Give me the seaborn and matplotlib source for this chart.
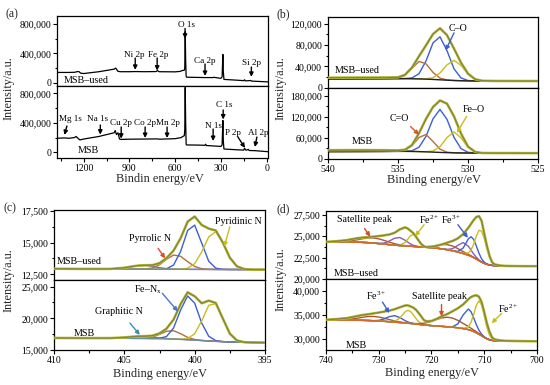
import matplotlib
matplotlib.use("Agg")
import matplotlib.pyplot as plt
import seaborn as sns
from matplotlib.ticker import FuncFormatter, MultipleLocator, AutoMinorLocator

# ---------------- data ----------------
# (a) survey spectra
a_used_be = [1375, 1300, 1260, 1240, 1230, 1220, 1200, 1100, 1000, 990, 985, 975, 960, 900, 862, 800,
             725, 716, 705, 600, 565, 556, 540, 537, 534, 531, 528, 525, 400, 350, 346, 310, 300, 292,
             287, 284, 280, 200, 150, 145, 140, 103, 100, 60, 0, -9]
a_used_int = [140e3, 140e3, 142e3, 152e3, 150e3, 130e3, 125e3, 150e3, 185e3, 200e3, 185e3, 155e3, 150e3,
              150e3, 152e3, 150e3, 152e3, 165e3, 150e3, 148e3, 155e3, 165e3, 170e3, 200e3, 695e3, 300e3,
              90e3, 75e3, 70e3, 70e3, 74e3, 62e3, 60e3, 80e3, 386e3, 150e3, 45e3, 35e3, 28e3, 40e3, 25e3,
              30e3, 22e3, 18e3, 12e3, 10e3]
a_msb_be = [1375, 1320, 1300, 1260, 1250, 1235, 1225, 1200, 1100, 1000, 993, 985, 975, 965, 955, 900, 800,
            720, 700, 600, 560, 550, 540, 537, 534, 531, 528, 525, 450, 405, 400, 395, 300, 292, 287, 284,
            280, 200, 150, 145, 135, 120, 115, 75, 0, -9]
a_msb_int = [191e3, 195e3, 190e3, 200e3, 215e3, 185e3, 168e3, 180e3, 215e3, 265e3, 295e3, 240e3, 265e3,
             180e3, 175e3, 178e3, 180e3, 182e3, 178e3, 185e3, 200e3, 215e3, 225e3, 300e3, 880e3, 400e3,
             110e3, 100e3, 98e3, 95e3, 110e3, 92e3, 80e3, 100e3, 432e3, 150e3, 45e3, 35e3, 30e3, 55e3,
             28e3, 40e3, 25e3, 22e3, 10e3, 8e3]
a_xticks = [1200, 900, 600, 300, 0]
a_yticks = [0, 400000, 800000]

# (b) O 1s
b_be = [540, 538, 536, 535, 534.5, 534, 533.5, 533, 532.5, 532, 531.5, 531, 530.5, 530, 529.5, 529, 528, 526, 525]
b_used_bg = [16000, 16200, 16500, 16700, 16700, 16500, 16200, 15800, 15200, 14500, 13800, 13200, 12800, 12500, 12400, 12300, 12300, 12200, 12200]
b_used_co = [16000, 16200, 16500, 16700, 16900, 18100, 26000, 50000, 84200, 95600, 69400, 35300, 18000, 13200, 12400, 12300, 12300, 12200, 12200]
b_used_cdo = [16000, 16200, 16500, 17700, 22800, 36100, 49200, 44800, 28500, 17700, 14200, 13200, 12800, 12500, 12400, 12300, 12300, 12200, 12200]
b_used_feo = [16000, 16200, 16500, 16700, 16700, 16500, 16200, 16300, 18500, 27400, 42800, 51200, 41800, 25400, 15700, 12800, 12300, 12200, 12200]
b_used_env = [18500, 18700, 18800, 19200, 24000, 37700, 59000, 79500, 100800, 111700, 98800, 73300, 47000, 26100, 15700, 12800, 12300, 12200, 12200]
b_msb_bg = [21000, 21200, 21500, 21700, 21700, 21500, 21000, 20300, 19500, 18700, 18000, 17500, 17200, 17000, 16900, 16800, 16800, 16700, 16700]
b_msb_co = [21000, 21200, 21500, 21700, 21900, 23600, 33300, 64300, 114100, 140700, 112600, 61500, 29500, 19100, 17100, 16800, 16800, 16700, 16700]
b_msb_cdo = [21000, 21200, 21500, 22000, 25000, 37700, 61000, 69600, 49800, 28000, 19400, 17600, 17200, 17000, 16900, 16800, 16800, 16700, 16700]
b_msb_feo = [21000, 21200, 21500, 21700, 21700, 21500, 21000, 20600, 22700, 34900, 61000, 77000, 60200, 33200, 20100, 17100, 16800, 16700, 16700]
b_msb_env = [25000, 25200, 25000, 24400, 26200, 39800, 73300, 113900, 147600, 166200, 157000, 121000, 72500, 35300, 20300, 17100, 16800, 16700, 16700]
b_xticks = [540, 535, 530, 525]
b_used_yticks = [0, 40000, 80000, 120000]
b_msb_yticks = [0, 60000, 120000, 180000]

# (c) N 1s
c_be = [410, 408, 406, 405, 404.5, 404, 403.5, 403, 402.5, 402, 401.5, 401, 400.5, 400, 399.5, 399, 398.5, 398, 397.5, 397, 396.5, 396, 395.5, 395]
c_used_bg = [12930, 12922, 12914, 12910, 12908, 12906, 12904, 12902, 12900, 12898, 12896, 12894, 12892, 12890, 12888, 12886, 12884, 12882, 12880, 12878, 12876, 12874, 12872, 12870]
c_used_fen = [12930, 12922, 12914, 12910, 12908, 12906, 12904, 12902, 12903, 12940, 13233, 14301, 15962, 16386, 14967, 13531, 12988, 12891, 12880, 12878, 12876, 12874, 12872, 12870]
c_used_pyridinic = [12930, 12922, 12914, 12910, 12908, 12906, 12904, 12902, 12900, 12898, 12896, 12906, 12985, 13343, 14262, 15458, 15856, 15003, 13814, 13133, 12919, 12878, 12872, 12870]
c_used_pyrrolic = [12930, 12922, 12914, 12910, 12908, 12908, 12923, 13004, 13255, 13688, 14023, 13926, 13497, 13118, 12943, 12894, 12884, 12882, 12880, 12878, 12876, 12874, 12872, 12870]
c_used_graphitic = [12930, 12922, 12925, 13016, 13110, 13190, 13197, 13124, 13023, 12948, 12911, 12897, 12892, 12890, 12888, 12886, 12884, 12882, 12880, 12878, 12876, 12874, 12872, 12870]
c_used_env = [12940, 12925, 12925, 13016, 13110, 13192, 13216, 13226, 13381, 13780, 14375, 15347, 16660, 17067, 16396, 16111, 15960, 15012, 13814, 13133, 12919, 12878, 12872, 12870]
c_msb_bg = [16860, 16855, 16850, 16845, 16840, 16835, 16825, 16810, 16790, 16760, 16725, 16680, 16620, 16560, 16495, 16430, 16370, 16320, 16275, 16240, 16210, 16190, 16175, 16160]
c_msb_fen = [16860, 16855, 16850, 16845, 16840, 16835, 16825, 16813, 16834, 17130, 18470, 21310, 23540, 22386, 19258, 17168, 16481, 16329, 16275, 16240, 16210, 16190, 16175, 16160]
c_msb_pyridinic = [16860, 16855, 16850, 16845, 16840, 16835, 16825, 16810, 16790, 16760, 16725, 16700, 16807, 17558, 19597, 22055, 22309, 19971, 17581, 16514, 16243, 16192, 16175, 16160]
c_msb_pyrrolic = [16860, 16855, 16850, 16845, 16840, 16842, 16875, 17043, 17462, 17960, 18046, 17578, 16997, 16658, 16511, 16431, 16370, 16320, 16275, 16240, 16210, 16190, 16175, 16160]
c_msb_graphitic = [16860, 16855, 16867, 16981, 17084, 17157, 17137, 17032, 16906, 16805, 16738, 16683, 16620, 16560, 16495, 16430, 16370, 16320, 16275, 16240, 16210, 16190, 16175, 16160]
c_msb_env = [16900, 16880, 16880, 16981, 17084, 17164, 17187, 17268, 17622, 18375, 19804, 22231, 24104, 23482, 22376, 22794, 22420, 19980, 17581, 16514, 16243, 16192, 16175, 16160]
c_xticks = [410, 405, 400, 395]
c_used_yticks = [12500, 15000, 17500]
c_msb_yticks = [15000, 20000, 25000]

# (d) Fe 2p
d_be = [740, 738, 736, 734, 733, 732, 731, 730, 729, 728, 727, 726, 725, 724.5, 724, 723.5, 723, 722.5, 722,
        721.5, 721, 720, 719, 718, 717, 716, 715, 714, 713, 712.5, 712, 711.5, 711, 710.5, 710, 709.5, 709,
        708.5, 708, 707, 706, 704, 702, 700]
d_used_bg = [24330, 24330, 24320, 24300, 24280, 24250, 24200, 24140, 24080, 24020, 23960, 23910, 23870, 23850, 23830, 23810, 23790, 23770, 23750, 23730, 23710, 23660, 23600, 23520, 23420, 23300, 23150, 22980, 22780, 22650, 22500, 22330, 22150, 21980, 21830, 21720, 21640, 21590, 21560, 21530, 21510, 21500, 21500, 21500]
d_used_sat1 = [24331, 24342, 24401, 24592, 24716, 24804, 24800, 24694, 24516, 24312, 24127, 23991, 23904, 23870, 23842, 23817, 23794, 23772, 23751, 23730, 23710, 23660, 23600, 23520, 23420, 23300, 23150, 22980, 22780, 22650, 22500, 22330, 22150, 21980, 21830, 21720, 21640, 21590, 21560, 21530, 21510, 21500, 21500, 21500]
d_used_fe3a = [24330, 24330, 24320, 24300, 24280, 24250, 24200, 24164, 24208, 24435, 24767, 24850, 24528, 24304, 24106, 23958, 23860, 23799, 23760, 23730, 23710, 23660, 23600, 23520, 23420, 23300, 23150, 22980, 22780, 22650, 22500, 22330, 22150, 21980, 21830, 21720, 21640, 21590, 21560, 21530, 21510, 21500, 21500, 21500]
d_used_fe2a = [24330, 24330, 24320, 24300, 24280, 24250, 24200, 24140, 24080, 24020, 23962, 23954, 24272, 24655, 25049, 25210, 25009, 24575, 24152, 23883, 23754, 23662, 23600, 23520, 23420, 23300, 23150, 22980, 22780, 22650, 22500, 22330, 22150, 21980, 21830, 21720, 21640, 21590, 21560, 21530, 21510, 21500, 21500, 21500]
d_used_sat2 = [24330, 24330, 24320, 24300, 24280, 24250, 24200, 24140, 24080, 24020, 23960, 23910, 23870, 23850, 23830, 23810, 23790, 23770, 23770, 23768, 23776, 23827, 23928, 24021, 24017, 23854, 23550, 23205, 22878, 22709, 22534, 22348, 22159, 21984, 21830, 21720, 21640, 21590, 21560, 21530, 21510, 21500, 21500, 21500]
d_used_fe3b = [24330, 24330, 24320, 24300, 24280, 24250, 24200, 24140, 24080, 24020, 23960, 23910, 23870, 23850, 23830, 23810, 23790, 23770, 23750, 23730, 23710, 23660, 23600, 23523, 23457, 23542, 23939, 24262, 23821, 23373, 22922, 22537, 22236, 22010, 21839, 21720, 21640, 21590, 21560, 21530, 21510, 21500, 21500, 21500]
d_used_fe3c = [24330, 24330, 24320, 24300, 24280, 24250, 24200, 24140, 24080, 24020, 23960, 23910, 23870, 23850, 23830, 23810, 23790, 23770, 23750, 23730, 23710, 23660, 23600, 23520, 23420, 23304, 23228, 23619, 24701, 24939, 24623, 23864, 23013, 22357, 21959, 21755, 21647, 21590, 21560, 21530, 21510, 21500, 21500, 21500]
d_used_fe2b = [24330, 24330, 24320, 24300, 24280, 24250, 24200, 24140, 24080, 24020, 23960, 23910, 23870, 23850, 23830, 23810, 23790, 23770, 23750, 23730, 23710, 23660, 23600, 23520, 23420, 23300, 23150, 22996, 23043, 23383, 24090, 25016, 25687, 25606, 24727, 23522, 22513, 21919, 21657, 21534, 21510, 21500, 21500, 21500]
d_used_env = [24340, 24420, 24550, 24780, 24850, 24900, 24950, 25020, 25100, 25200, 25400, 25800, 26040, 25900, 25650, 25390, 25000, 24550, 24120, 23850, 23730, 23760, 23880, 24050, 24250, 24450, 24750, 25250, 26000, 26450, 26900, 27250, 27350, 26800, 25300, 23900, 22700, 21950, 21700, 21580, 21530, 21510, 21500, 21500]
d_msb_bg = [33950, 33950, 33930, 33900, 33880, 33850, 33800, 33740, 33680, 33600, 33510, 33420, 33330, 33280, 33230, 33180, 33120, 33060, 33000, 32940, 32880, 32780, 32700, 32620, 32540, 32450, 32330, 32170, 31950, 31780, 31560, 31290, 30990, 30660, 30330, 30040, 29830, 29700, 29640, 29580, 29550, 29530, 29520, 29520]
d_msb_sat1 = [33951, 33968, 34052, 34338, 34533, 34681, 34700, 34571, 34333, 34038, 33760, 33542, 33380, 33311, 33248, 33190, 33125, 33062, 33001, 32940, 32880, 32780, 32700, 32620, 32540, 32450, 32330, 32170, 31950, 31780, 31560, 31290, 30990, 30660, 30330, 30040, 29830, 29700, 29640, 29580, 29550, 29530, 29520, 29520]
d_msb_fe3a = [33950, 33950, 33930, 33900, 33880, 33850, 33823, 33876, 34167, 34646, 34860, 34466, 33817, 33554, 33366, 33239, 33143, 33068, 33000, 32940, 32880, 32780, 32700, 32620, 32540, 32450, 32330, 32170, 31950, 31780, 31560, 31290, 30990, 30660, 30330, 30040, 29830, 29700, 29640, 29580, 29550, 29530, 29520, 29520]
d_msb_fe2a = [33950, 33950, 33930, 33900, 33880, 33850, 33800, 33740, 33680, 33613, 33675, 34357, 35657, 35969, 35757, 35113, 34321, 33668, 33251, 33024, 32903, 32780, 32700, 32620, 32540, 32450, 32330, 32170, 31950, 31780, 31560, 31290, 30990, 30660, 30330, 30040, 29830, 29700, 29640, 29580, 29550, 29530, 29520, 29520]
d_msb_sat2 = [33950, 33950, 33930, 33900, 33880, 33850, 33800, 33740, 33680, 33600, 33510, 33420, 33339, 33297, 33262, 33235, 33212, 33208, 33230, 33282, 33368, 33662, 34058, 34402, 34534, 34350, 33874, 33238, 32580, 32236, 31877, 31501, 31126, 30744, 30380, 30068, 29845, 29708, 29640, 29580, 29550, 29530, 29520, 29520]
d_msb_fe3b = [33950, 33950, 33930, 33900, 33880, 33850, 33800, 33740, 33680, 33600, 33510, 33420, 33330, 33280, 33230, 33180, 33120, 33060, 33000, 32940, 32880, 32780, 32700, 32620, 32545, 32553, 33151, 35012, 36250, 35659, 34402, 32989, 31811, 30987, 30433, 30067, 29836, 29700, 29640, 29580, 29550, 29530, 29520, 29520]
d_msb_fe2b = [33950, 33950, 33930, 33900, 33880, 33850, 33800, 33740, 33680, 33600, 33510, 33420, 33330, 33280, 33230, 33180, 33120, 33060, 33000, 32940, 32880, 32780, 32700, 32620, 32540, 32450, 32330, 32204, 32559, 33474, 35144, 37023, 37948, 37065, 34796, 32406, 30775, 29987, 29707, 29581, 29550, 29530, 29520, 29520]
d_msb_env = [34000, 34150, 34350, 34800, 35000, 35150, 35330, 35500, 35700, 35900, 36200, 36600, 36980, 37000, 36800, 36550, 36150, 35500, 34780, 34000, 33680, 33750, 34200, 34750, 35200, 35780, 36400, 37200, 38300, 38750, 39000, 39100, 38800, 37700, 35600, 33300, 31500, 30300, 29900, 29700, 29620, 29570, 29540, 29520]
d_xticks = [740, 730, 720, 710, 700]
d_used_yticks = [20000, 22500, 25000, 27500]
d_msb_yticks = [30000, 35000, 40000]

# ---------------- style ----------------
sns.set_theme(style="ticks")
plt.rcParams['font.family'] = ['Liberation Serif', 'DejaVu Serif']
plt.rcParams['mathtext.fontset'] = 'custom'
plt.rcParams['mathtext.rm'] = 'Liberation Serif'
plt.rcParams['mathtext.it'] = 'Liberation Serif:italic'
plt.rcParams['mathtext.bf'] = 'Liberation Serif:bold'

BLUE = "#3d5fd0"
BROWN = "#b0703e"
YELLOW = "#c9bd1e"
PURPLE = "#8a5cb8"
ENV = "#85853a"
RAW = "#bcc23c"
ORANGE = "#d8652a"
SAT = "#a8582e"
TEAL = "#6f9095"

W, H = 550, 385
fig = plt.figure(figsize=(5.5, 3.85), dpi=100)
fig.patch.set_facecolor("white")


def make_ax(l, t, r, b):
    return fig.add_axes([l / W, 1 - b / H, (r - l) / W, (b - t) / H])


def fmt(v, p):
    return f"{int(round(v)):,}"


def style(ax, xlim, ylim, yticks, xticks, xminor, show_x):
    ax.set_xlim(*xlim)
    ax.set_ylim(*ylim)
    ax.set_xticks(xticks)
    ax.set_yticks(yticks)
    ax.xaxis.set_minor_locator(MultipleLocator(xminor))
    ax.yaxis.set_minor_locator(AutoMinorLocator(2))
    ax.yaxis.set_major_formatter(FuncFormatter(fmt))
    ax.tick_params(which='both', direction='out', top=False, right=False, labelsize=7,
                   pad=1.2, width=0.8, colors='black')
    ax.tick_params(which='major', length=3)
    ax.tick_params(which='minor', length=1.8)
    if not show_x:
        ax.tick_params(axis='x', which='both', labelbottom=False, length=0)
    ax.set_xlabel('')
    ax.set_ylabel('')
    ax.grid(False)
    ax.set_facecolor('white')
    for s in ax.spines.values():
        s.set_visible(True)
        s.set_linewidth(0.9)
        s.set_color('black')


def line(ax, x, y, color, lw, z=2):
    sns.lineplot(x=x, y=y, ax=ax, color=color, lw=lw, estimator=None, sort=False,
                 legend=False, zorder=z)


def arrow(ax, tail, head, color):
    ax.annotate("", xy=head, xytext=tail,
                arrowprops=dict(arrowstyle='-|>', color=color, lw=1.0, mutation_scale=6,
                                shrinkA=0, shrinkB=0), zorder=6)


def label(ax, x, y, s, ha='center', size=7.2):
    ax.text(x, y, s, ha=ha, va='center', fontsize=size, color='black', zorder=7)


ENV_LW = 1.0
RAW_LW = 1.9

# ---------------- (a) ----------------
a1 = make_ax(57, 16, 268, 86)
line(a1, a_used_be, a_used_int, 'black', 0.9)
style(a1, (1375, -9), (-45000, 910000), a_yticks, a_xticks, 150, False)
for txt, xt, yt in [("O 1s", 528, 790000), ("Ni 2p", 866, 378000), ("Fe 2p", 712, 378000),
                    ("Ca 2p", 404, 296000), ("Si 2p", 98, 269000)]:
    label(a1, xt, yt, txt, size=6.6)
a1_arrows = [((535, 740000), (535, 600000)), ((862, 337000), (862, 175000)), ((718, 337000), (718, 165000)),
             ((404, 255000), (404, 92000)), ((100, 214000), (100, 80000))]
for t, h in a1_arrows:
    arrow(a1, t, h, 'black')
label(a1, 1330, 27000, "MSB–used", ha='left', size=7.3)

a2 = make_ax(57, 86, 268, 158)
line(a2, a_msb_be, a_msb_int, 'black', 0.9)
style(a2, (1375, -9), (-77000, 899000), a_yticks, a_xticks, 150, True)
for txt, xt, yt in [("Mg 1s", 1288, 451000), ("Na 1s", 1111, 451000), ("Cu 2p", 958, 396000),
                    ("Co 2p", 797, 396000), ("Mn 2p", 650, 396000), ("N 1s", 351, 357000),
                    ("C 1s", 280, 641000), ("P 2p", 222, 260000), ("Al 2p", 57, 260000)]:
    label(a2, xt, yt, txt, size=6.6)
a2_arrows = [((1310, 357000), (1326, 235000)), ((1091, 370000), (1091, 240000)), ((954, 343000), (954, 185000)),
             ((797, 343000), (797, 194000)), ((653, 343000), (653, 194000)), ((351, 316000), (351, 153000)),
             ((285, 574000), (285, 445000)), ((188, 207000), (142, 60000)), ((64, 207000), (77, 72000))]
for t, h in a2_arrows:
    arrow(a2, t, h, 'black')
label(a2, 1240, 25000, "MSB", ha='left', size=7.3)

# ---------------- (b) ----------------
b1 = make_ax(328, 17, 538, 87.5)
line(b1, b_be, b_used_co, BLUE, 1.0)
line(b1, b_be, b_used_cdo, BROWN, 1.0)
line(b1, b_be, b_used_feo, YELLOW, 1.0)
line(b1, b_be, b_used_bg, '#222222', 1.0)
line(b1, b_be, b_used_env, RAW, RAW_LW, 3)
line(b1, b_be, b_used_env, ENV, ENV_LW, 4)
style(b1, (540, 525), (0, 133000), b_used_yticks, b_xticks, 2.5, False)
label(b1, 530.7, 112000, "C–O")
arrow(b1, (531.0, 103000), (531.6, 70000), BLUE)
label(b1, 539.5, 33000, "MSB–used", ha='left', size=7.3)

b2 = make_ax(328, 87.5, 538, 159)
line(b2, b_be, b_msb_co, BLUE, 1.0)
line(b2, b_be, b_msb_cdo, BROWN, 1.0)
line(b2, b_be, b_msb_feo, YELLOW, 1.0)
line(b2, b_be, b_msb_bg, '#222222', 1.0)
line(b2, b_be, b_msb_env, RAW, RAW_LW, 3)
line(b2, b_be, b_msb_env, ENV, ENV_LW, 4)
style(b2, (540, 525), (0, 203000), b_msb_yticks, b_xticks, 2.5, True)
label(b2, 534.9, 116000, "C=O")
arrow(b2, (534.1, 92000), (533.5, 69000), '#d05a30')
label(b2, 529.6, 139500, "Fe–O")
arrow(b2, (530.1, 121000), (530.8, 74000), YELLOW)
label(b2, 538.3, 49000, "MSB", ha='left', size=7.3)

# ---------------- (c) ----------------
c1 = make_ax(54, 210, 265, 280)
line(c1, c_be, c_used_graphitic, PURPLE, 1.0)
line(c1, c_be, c_used_pyrrolic, BROWN, 1.0)
line(c1, c_be, c_used_fen, BLUE, 1.0)
line(c1, c_be, c_used_pyridinic, YELLOW, 1.0)
line(c1, c_be, c_used_bg, TEAL, 1.0)
line(c1, c_be, c_used_env, RAW, RAW_LW, 3)
line(c1, c_be, c_used_env, ENV, ENV_LW, 4)
style(c1, (410, 395), (12050, 17580), c_used_yticks, c_xticks, 2.5, False)
label(c1, 403.2, 15350, "Pyrrolic N")
arrow(c1, (402.6, 14550), (402.1, 13760), '#e04a22')
label(c1, 396.9, 16650, "Pyridinic N")
arrow(c1, (397.5, 16250), (397.9, 14680), YELLOW)
label(c1, 409.8, 13500, "MSB–used", ha='left', size=7.3)

c2 = make_ax(54, 280, 265, 350)
line(c2, c_be, c_msb_graphitic, PURPLE, 1.0)
line(c2, c_be, c_msb_pyrrolic, BROWN, 1.0)
line(c2, c_be, c_msb_fen, BLUE, 1.0)
line(c2, c_be, c_msb_pyridinic, YELLOW, 1.0)
line(c2, c_be, c_msb_bg, TEAL, 1.0)
line(c2, c_be, c_msb_env, RAW, RAW_LW, 3)
line(c2, c_be, c_msb_env, ENV, ENV_LW, 4)
style(c2, (410, 395), (15000, 26050), c_msb_yticks, c_xticks, 2.5, True)
label(c2, 403.3, 24500, r"Fe–N$_\mathregular{x}$")
arrow(c2, (402.3, 23950), (401.2, 21100), '#4a78c8')
label(c2, 405.4, 21050, "Graphitic N")
arrow(c2, (404.6, 19250), (403.9, 17380), '#3b8db0')
label(c2, 408.6, 17650, "MSB", ha='left', size=7.3)

# ---------------- (d) ----------------
d1 = make_ax(326, 211, 537, 279)
line(d1, d_be, d_used_sat1, SAT, 1.0)
line(d1, d_be, d_used_fe3a, PURPLE, 1.0)
line(d1, d_be, d_used_fe2a, YELLOW, 1.0)
line(d1, d_be, d_used_sat2, SAT, 1.0)
line(d1, d_be, d_used_fe3b, PURPLE, 1.0)
line(d1, d_be, d_used_fe3c, BLUE, 1.0)
line(d1, d_be, d_used_fe2b, YELLOW, 1.0)
line(d1, d_be, d_used_bg, ORANGE, 1.0)
line(d1, d_be, d_used_env, RAW, RAW_LW, 3)
line(d1, d_be, d_used_env, ENV, ENV_LW, 4)
style(d1, (740, 700), (20000, 27950), d_used_yticks, d_xticks, 5, False)
label(d1, 732.7, 26900, "Satellite peak")
arrow(d1, (732.7, 25900), (731.6, 24960), '#d84a26')
label(d1, 720.4, 26900, r"Fe$^{2+}$")
arrow(d1, (721.4, 26350), (723.1, 25000), YELLOW)
label(d1, 716.3, 26900, r"Fe$^{3+}$")
arrow(d1, (715.0, 26350), (713.1, 24810), BLUE)
label(d1, 738.6, 20600, "MSB–used", ha='left', size=7.3)

d2 = make_ax(326, 279, 537, 350)
line(d2, d_be, d_msb_sat1, SAT, 1.0)
line(d2, d_be, d_msb_fe3a, BLUE, 1.0)
line(d2, d_be, d_msb_fe2a, YELLOW, 1.0)
line(d2, d_be, d_msb_sat2, SAT, 1.0)
line(d2, d_be, d_msb_fe3b, BLUE, 1.0)
line(d2, d_be, d_msb_fe2b, YELLOW, 1.0)
line(d2, d_be, d_msb_bg, ORANGE, 1.0)
line(d2, d_be, d_msb_env, RAW, RAW_LW, 3)
line(d2, d_be, d_msb_env, ENV, ENV_LW, 4)
style(d2, (740, 700), (27700, 42500), d_msb_yticks, d_xticks, 5, True)
label(d2, 730.6, 39050, r"Fe$^{3+}$")
arrow(d2, (729.3, 37700), (728.0, 35400), BLUE)
label(d2, 718.4, 38950, "Satellite peak")
arrow(d2, (718.1, 37200), (718.1, 34700), '#d84a26')
label(d2, 705.5, 36200, r"Fe$^{2+}$")
arrow(d2, (706.7, 35350), (708.6, 33270), YELLOW)
label(d2, 736.2, 28550, "MSB", ha='left', size=7.3)

# ---------------- figure texts ----------------
def ftext(px, py, s, **kw):
    fig.text(px / W, 1 - py / H, s, **kw)

for px, py, s in [(12, 14, "(a)"), (283, 14, "(b)"), (10, 208, "(c)"), (283, 209, "(d)")]:
    ftext(px, py, s, ha='center', va='center', fontsize=8.5)
for px, py in [(9, 88), (281, 88), (9, 280), (281, 279)]:
    ftext(px, py, "Intensity/a.u.", ha='center', va='center', rotation=90, fontsize=8.8)
ftext(160, 179, "Bindin energy/eV", ha='center', va='center', fontsize=8.8)
ftext(434, 180, "Binding energy/eV", ha='center', va='center', fontsize=8.8)
ftext(160, 374, "Binding energy/eV", ha='center', va='center', fontsize=8.8)
ftext(432, 373, "Binding energy/eV", ha='center', va='center', fontsize=8.8)

fig.savefig("out.png", dpi=100)
